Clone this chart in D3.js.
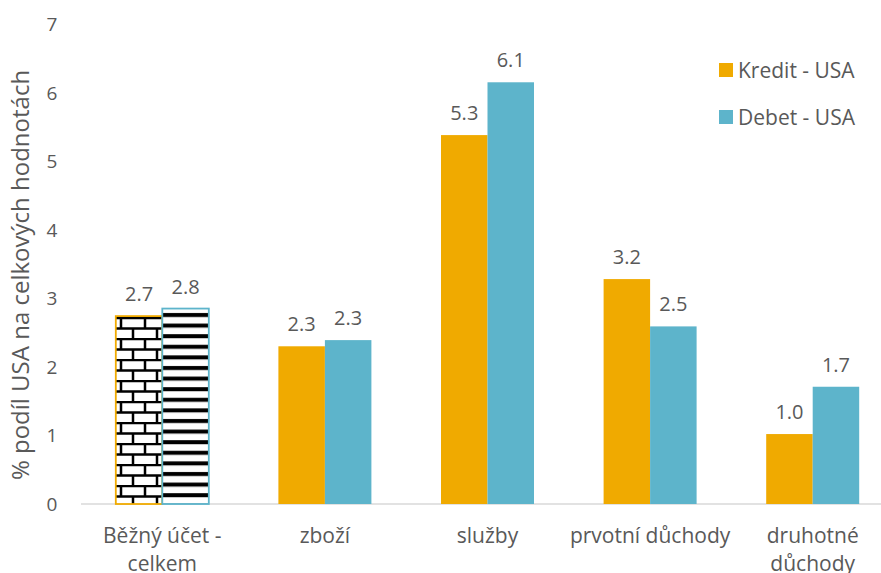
<!DOCTYPE html>
<html lang="cs">
<head>
<meta charset="utf-8" />
<script src="https://d3js.org/d3.v7.min.js"></script>
<style>
  html, body { margin: 0; padding: 0; background: #fff; }
  text { font-family: "Open Sans", sans-serif; fill: #595959; }
</style>
</head>
<body>
<svg id="canvas" width="881" height="573"></svg>
<script>
// data
var categories = [["Běžný účet -", "celkem"], ["zboží"], ["služby"], ["prvotní důchody"], ["druhotné", "důchody"]];
var kredit = [2.74, 2.30, 5.38, 3.28, 1.02];
var debet  = [2.85, 2.39, 6.15, 2.59, 1.71];
var seriesNames = ["Kredit - USA", "Debet - USA"];
var yTicks = [0, 1, 2, 3, 4, 5, 6, 7];

var colors = ["#f0aa00", "#5db4cb"];
var svg = d3.select("#canvas");

var x = d3.scaleBand().domain(d3.range(categories.length)).range([81, 894]).paddingInner(0).paddingOuter(0);
var groupW = 93;
var xs = d3.scaleBand().domain([0, 1]).range([0, groupW]);
var y = d3.scaleLinear().domain([0, 7]).range([504, 24]);

// patterns for the first group
var defs = svg.append("defs");
var brick = defs.append("pattern").attr("id", "brick")
  .attr("patternUnits", "userSpaceOnUse").attr("width", 24).attr("height", 21)
  .attr("x", 115).attr("y", 317);
brick.append("rect").attr("width", 24).attr("height", 21).attr("fill", "#fff");
brick.append("path")
  .attr("d", "M0,1H24M0,11.5H24M6,1V11.5M18,11.5V21")
  .attr("stroke", "#000").attr("stroke-width", 2.5).attr("fill", "none");

var stripes = defs.append("pattern").attr("id", "stripes")
  .attr("patternUnits", "userSpaceOnUse").attr("width", 10).attr("height", 10.6)
  .attr("x", 0).attr("y", 311);
stripes.append("rect").attr("width", 10).attr("height", 10.6).attr("fill", "#fff");
stripes.append("rect").attr("y", 2).attr("width", 10).attr("height", 4).attr("fill", "#000");

// baseline
svg.append("line").attr("x1", 81).attr("x2", 881).attr("y1", y(0)).attr("y2", y(0))
  .attr("stroke", "#d9d9d9").attr("stroke-width", 1.5);

var series = [kredit, debet];
series.forEach(function(vals, s) {
  var g = svg.append("g");
  g.selectAll("rect").data(vals).enter().append("rect")
    .attr("x", function(d, i) { return x(i) + (x.bandwidth() - groupW) / 2 + xs(s); })
    .attr("width", xs.bandwidth())
    .attr("y", function(d) { return y(d); })
    .attr("height", function(d) { return y(0) - y(d); })
    .attr("fill", function(d, i) { return i === 0 ? (s === 0 ? "url(#brick)" : "url(#stripes)") : colors[s]; })
    .attr("stroke", function(d, i) { return i === 0 ? colors[s] : "none"; })
    .attr("stroke-width", 1.8);
  g.selectAll("text").data(vals).enter().append("text")
    .attr("x", function(d, i) { return x(i) + (x.bandwidth() - groupW) / 2 + xs(s) + xs.bandwidth() / 2; })
    .attr("y", function(d) { return y(d) - 15; })
    .attr("text-anchor", "middle")
    .style("font-size", "20px")
    .text(function(d) { return (Math.floor(d * 10 + 1e-9) / 10).toFixed(1); });
});

// y tick labels
svg.selectAll(".ytick").data(yTicks).enter().append("text")
  .attr("class", "ytick")
  .attr("x", 52).attr("y", function(d) { return y(d) + 7; })
  .attr("text-anchor", "middle").style("font-size", "19px")
  .text(function(d) { return d; });

// y title
svg.append("text")
  .attr("transform", "translate(29,275) rotate(-90)")
  .attr("text-anchor", "middle").style("font-size", "24px")
  .text("% podíl USA na celkových hodnotách");

// category labels
categories.forEach(function(lines, i) {
  var t = svg.append("text").attr("text-anchor", "middle").style("font-size", "21px");
  lines.forEach(function(l, j) {
    t.append("tspan").attr("x", x(i) + x.bandwidth() / 2).attr("y", 543 + j * 28).text(l);
  });
});

// legend
var leg = svg.append("g");
seriesNames.forEach(function(n, s) {
  leg.append("rect").attr("x", 719).attr("y", 63 + s * 47).attr("width", 14).attr("height", 14).attr("fill", colors[s]);
  leg.append("text").attr("x", 738).attr("y", 78 + s * 47).style("font-size", "21px").text(n);
});
</script>
</body>
</html>
